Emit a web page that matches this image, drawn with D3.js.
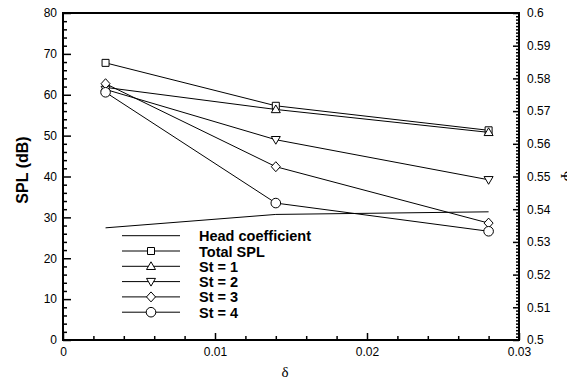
<!DOCTYPE html>
<html lang="en">
<head>
  <meta charset="UTF-8">
  <title>SPL and head coefficient vs delta</title>
  <style>
    body { margin: 0; background: #fff; }
    svg { display: block; }
    .tick text { font-family: "Liberation Sans", Arial, sans-serif; font-size: 12px; fill: #000; }
  </style>
</head>
<body>
  <div id="chart"></div>

  <script src="https://d3js.org/d3.v7.min.js"></script>
  <script>

    // data
    const delta = [0.0028, 0.014, 0.028];
    const totalSPL = [67.8, 57.3, 51.3];
    const st1 = [61.8, 56.4, 50.8];
    const st2 = [61.3, 49.0, 39.2];
    const st3 = [62.7, 42.4, 28.6];
    const st4 = [60.6, 33.5, 26.6];
    const headCoeff = [0.5343, 0.5384, 0.5392];

    const xTicks = [0, 0.01, 0.02, 0.03];
    const yLeftTicks = [0, 10, 20, 30, 40, 50, 60, 70, 80];
    const yRightTicks = [0.5, 0.51, 0.52, 0.53, 0.54, 0.55, 0.56, 0.57, 0.58, 0.59, 0.6];

    const series = [
      {name: "Head coefficient", values: headCoeff, marker: null, axis: "right"},
      {name: "Total SPL", values: totalSPL, marker: "square", axis: "left"},
      {name: "St = 1", values: st1, marker: "up", axis: "left"},
      {name: "St = 2", values: st2, marker: "down", axis: "left"},
      {name: "St = 3", values: st3, marker: "diamond", axis: "left"},
      {name: "St = 4", values: st4, marker: "circle", axis: "left"}
    ];

    const width = 567,
          height = 380,
          margin = {top: 13, right: 48, bottom: 40, left: 63};

    const svg = d3.select("#chart")
      .append("svg")
      .attr("width", width)
      .attr("height", height);

    const x = d3.scaleLinear([0, 0.03], [margin.left, width - margin.right]);
    const yL = d3.scaleLinear([0, 80], [height - margin.bottom, margin.top]);
    const yR = d3.scaleLinear([0.5, 0.6], [height - margin.bottom, margin.top]);

    const fmt = d => d === 0 ? "0" : String(+d.toFixed(3));

    // minor ticks first so the major ones sit on top
    const xMinor = d3.range(0, 0.0301, 0.002).filter(v => Math.abs(v * 100 - Math.round(v * 100)) > 1e-6);
    const yLMinor = d3.range(0, 80.1, 2).filter(v => v % 10 !== 0);
    const yRMinor = d3.range(0, 101).map(i => 0.5 + i * 0.001).filter((v, i) => i % 10 !== 0);

    svg.append("g")
      .attr("transform", `translate(0,${height - margin.bottom})`)
      .call(d3.axisBottom(x).tickValues(xMinor).tickFormat("").tickSize(-4));
    svg.append("g")
      .attr("transform", `translate(${margin.left},0)`)
      .call(d3.axisLeft(yL).tickValues(yLMinor).tickFormat("").tickSize(-4));
    svg.append("g")
      .attr("transform", `translate(${width - margin.right},0)`)
      .call(d3.axisRight(yR).tickValues(yRMinor).tickFormat("").tickSize(-3));

    svg.append("g")
      .attr("transform", `translate(0,${height - margin.bottom})`)
      .call(d3.axisBottom(x).tickValues(xTicks).tickFormat(fmt).tickSize(-7).tickPadding(7));
    svg.append("g")
      .attr("transform", `translate(${margin.left},0)`)
      .call(d3.axisLeft(yL).tickValues(yLeftTicks).tickFormat(d3.format("d")).tickSize(-8).tickPadding(6));
    svg.append("g")
      .attr("transform", `translate(${width - margin.right},0)`)
      .call(d3.axisRight(yR).tickValues(yRightTicks).tickFormat(fmt).tickSize(-6).tickPadding(8));

    svg.selectAll(".domain").remove();
    svg.selectAll(".tick line").attr("stroke", "#000").attr("stroke-width", 1.5);

    // frame
    svg.append("rect")
      .attr("x", margin.left)
      .attr("y", margin.top)
      .attr("width", width - margin.left - margin.right)
      .attr("height", height - margin.top - margin.bottom)
      .attr("fill", "none")
      .attr("stroke", "#000")
      .attr("stroke-width", 2);

    function markerPath(type) {
      if (type === "square") return "M-3.5,-3.5H3.5V3.5H-3.5Z";
      if (type === "up") return "M0,-4.5L4.5,3.2H-4.5Z";
      if (type === "down") return "M0,4.5L4.5,-3.2H-4.5Z";
      if (type === "diamond") return "M0,-5L4.5,0L0,5L-4.5,0Z";
      if (type === "circle") return "M-4.8,0A4.8,4.8 0 1,0 4.8,0A4.8,4.8 0 1,0 -4.8,0Z";
      return "";
    }

    const plot = svg.append("g");

    series.forEach(s => {
      const yScale = s.axis === "right" ? yR : yL;
      const pts = delta.map((d, i) => [x(d), yScale(s.values[i])]);
      plot.append("path")
        .attr("d", d3.line()(pts))
        .attr("fill", "none")
        .attr("stroke", "#000")
        .attr("stroke-width", 1);
      if (s.marker) {
        plot.selectAll(null)
          .data(pts)
          .join("path")
          .attr("transform", p => `translate(${p[0]},${p[1]})`)
          .attr("d", markerPath(s.marker))
          .attr("fill", "#fff")
          .attr("stroke", "#000")
          .attr("stroke-width", 1);
      }
    });

    // legend
    const legend = svg.append("g").attr("transform", "translate(122,235.7)");
    const row = legend.selectAll("g")
      .data(series)
      .join("g")
      .attr("transform", (d, i) => `translate(0,${i * 15.3})`);

    row.append("line")
      .attr("x1", 0).attr("x2", 58)
      .attr("stroke", "#000").attr("stroke-width", 1);
    row.filter(d => d.marker)
      .append("path")
      .attr("transform", "translate(29,0)")
      .attr("d", d => markerPath(d.marker))
      .attr("fill", "#fff")
      .attr("stroke", "#000");
    row.append("text")
      .attr("x", 77)
      .attr("y", 5.5)
      .style("font-family", "'Liberation Sans', Arial, sans-serif")
      .style("font-weight", "bold")
      .style("font-size", "14.5px")
      .text(d => d.name);

    // axis titles
    svg.append("text")
      .attr("transform", "translate(27.5,170) rotate(-90)")
      .attr("text-anchor", "middle")
      .style("font-family", "'Liberation Sans', Arial, sans-serif")
      .style("font-weight", "bold")
      .style("font-size", "16px")
      .text("SPL (dB)");

    svg.append("text")
      .attr("x", 285)
      .attr("y", 377)
      .attr("text-anchor", "middle")
      .style("font-family", "'Liberation Serif', 'Times New Roman', serif")
      .style("font-size", "15px")
      .text("δ");

    svg.append("text")
      .attr("transform", "translate(561,176) rotate(90)")
      .attr("text-anchor", "middle")
      .style("font-family", "'Liberation Serif', 'Times New Roman', serif")
      .style("font-size", "15px")
      .text("Ψ");

  </script>
</body>
</html>
